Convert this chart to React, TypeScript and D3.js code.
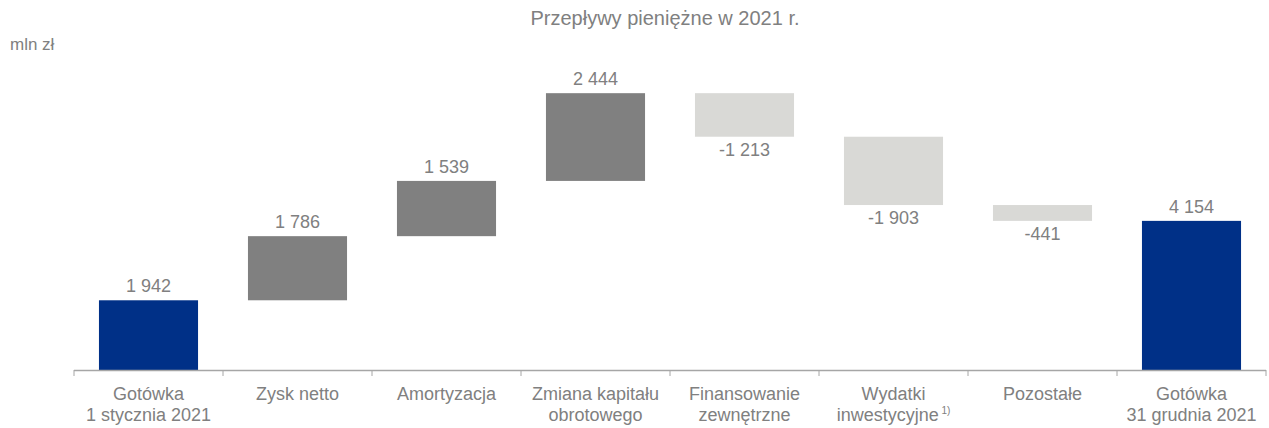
import React from "react";
import * as d3 from "d3";

const categories: string[][] = [
  ["Gotówka", "1 stycznia 2021"],
  ["Zysk netto"],
  ["Amortyzacja"],
  ["Zmiana kapitału", "obrotowego"],
  ["Finansowanie", "zewnętrzne"],
  ["Wydatki", "inwestycyjne"],
  ["Pozostałe"],
  ["Gotówka", "31 grudnia 2021"],
];
const values: number[] = [1942, 1786, 1539, 2444, -1213, -1903, -441, 4154];
const kinds: string[] = ["total", "pos", "pos", "pos", "neg", "neg", "neg", "total"];
const title = "Przepływy pieniężne w 2021 r.";
const unit = "mln zł";

const W = 1269;
const H = 428;
const colors: Record<string, string> = { total: "#003087", pos: "#808080", neg: "#d9d9d6" };
const textColor = "#808080";

const locale = d3.formatLocale({ decimal: ",", thousands: "\u00a0", grouping: [3], currency: ["", " zł"], minus: "-" });
const fmt = locale.format(",d");

export default function App() {
  const x = d3.scaleBand<number>().domain(d3.range(values.length)).range([74, 1266]).paddingInner(0.335).paddingOuter(0.1675);
  const y = d3.scaleLinear().domain([0, 8000]).range([370, 370 - 8000 * 0.0359]);

  let cum = 0;
  const bars = values.map((v, i) => {
    let y0: number, y1: number;
    if (kinds[i] === "total") {
      y0 = 0;
      y1 = v;
      cum = v;
    } else {
      y0 = cum;
      y1 = cum + v;
      cum = y1;
    }
    return { i, v, lo: Math.min(y0, y1), hi: Math.max(y0, y1), kind: kinds[i] };
  });

  const ticks = d3.range(values.length + 1).map((k) => 74 + k * ((1266 - 74) / values.length));

  return (
    <svg width={W} height={H} style={{ position: "absolute", left: 0, top: 0, background: "#fff" }} fontFamily="'Liberation Sans', Arial, sans-serif">
      <text x={665} y={25} textAnchor="middle" fontSize={20} fill={textColor}>{title}</text>
      <text x={10} y={50} fontSize={17} fill={textColor}>{unit}</text>
      {bars.map((b) => (
        <rect key={b.i} x={x(b.i)!} width={x.bandwidth()} y={y(b.hi)} height={y(b.lo) - y(b.hi)} fill={colors[b.kind]} />
      ))}
      {bars.map((b) => {
        const cx = x(b.i)! + x.bandwidth() / 2;
        const neg = b.v < 0;
        return (
          <text key={"l" + b.i} x={cx} y={neg ? y(b.lo) + 19 : y(b.hi) - 8} textAnchor="middle" fontSize={18} fill={textColor}>
            {fmt(b.v)}
          </text>
        );
      })}
      <line x1={74} x2={1266} y1={370.5} y2={370.5} stroke="#a6a6a6" strokeWidth={1.5} />
      {ticks.map((t, k) => (
        <line key={"t" + k} x1={t} x2={t} y1={370} y2={376} stroke="#a6a6a6" strokeWidth={1} />
      ))}
      {categories.map((lines, i) => {
        const cx = x(i)! + x.bandwidth() / 2;
        return (
          <text key={"c" + i} x={cx} y={400} textAnchor="middle" fontSize={18} fill={textColor}>
            {lines.map((ln, j) => (
              <tspan key={j} x={cx} dy={j === 0 ? 0 : 21}>
                {ln}
                {i === 5 && j === 1 ? (
                  <tspan fontSize={10} dy={-7}>{"\u00a01)"}</tspan>
                ) : null}
              </tspan>
            ))}
          </text>
        );
      })}
    </svg>
  );
}
